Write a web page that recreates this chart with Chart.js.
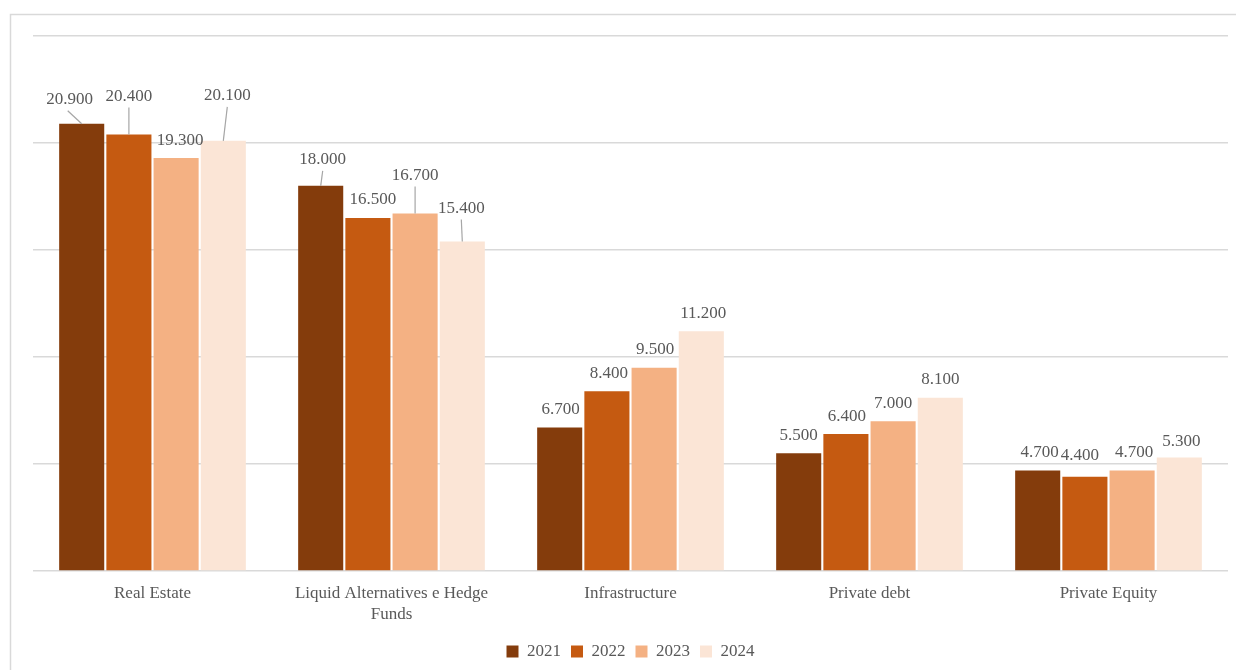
<!DOCTYPE html>
<html>
<head>
<meta charset="utf-8">
<script src="https://cdn.jsdelivr.net/npm/chart.js@4.4.0/dist/chart.umd.min.js"></script>
<style>
  html, body { margin: 0; padding: 0; background: #ffffff; }
  #wrap { width: 1236px; height: 670px; position: relative; }
</style>
</head>
<body>
<div id="wrap"><canvas id="c" width="1236" height="670"></canvas></div>
<script>
const categories = ["Real Estate", ["Liquid Alternatives e Hedge", "Funds"], "Infrastructure", "Private debt", "Private Equity"];
const years = ["2021", "2022", "2023", "2024"];
const values2021 = [20.9, 18.0, 6.7, 5.5, 4.7];
const values2022 = [20.4, 16.5, 8.4, 6.4, 4.4];
const values2023 = [19.3, 16.7, 9.5, 7.0, 4.7];
const values2024 = [20.1, 15.4, 11.2, 8.1, 5.3];
const yTicks = [0, 5, 10, 15, 20, 25];

const colors = ["#843C0C", "#C55A11", "#F4B183", "#FBE5D6"];
const series = [values2021, values2022, values2023, values2024];

// label nudges (dx, dy in px relative to default position above the bar)
const labelShift = [
  [[-12, -6], [2, -8], [1, 0], [0, 0], [2, 0]],
  [[0, -20], [5, 0], [2, 0], [1, 0], [-5, -3]],
  [[4, 1], [0, -20], [1, 0], [0, 0], [2, 0]],
  [[4, -27], [-1, -15], [2, 0], [0, 0], [2, 2]]
];

const FONT = "'Liberation Serif', 'Times New Roman', serif";
const TEXT = "#595959";

const frame = {
  id: 'frame',
  beforeDraw(chart) {
    const ctx = chart.ctx;
    ctx.save();
    ctx.fillStyle = '#ffffff';
    ctx.fillRect(0, 0, chart.width, chart.height);
    ctx.strokeStyle = '#d9d9d9';
    ctx.lineWidth = 1.5;
    ctx.strokeRect(10.5, 14.5, 1400, 800);
    ctx.restore();
  }
};

const valueLabels = {
  id: 'valueLabels',
  afterDatasetsDraw(chart) {
    const ctx = chart.ctx;
    ctx.save();
    ctx.font = "17px " + FONT;
    ctx.fillStyle = TEXT;
    ctx.textAlign = 'center';
    ctx.textBaseline = 'middle';
    chart.data.datasets.forEach((ds, i) => {
      const meta = chart.getDatasetMeta(i);
      meta.data.forEach((bar, j) => {
        const v = ds.data[j];
        const sh = labelShift[i][j];
        const lx = bar.x + sh[0];
        const ly = bar.y - 18 + sh[1];
        if (sh[1] <= -6) {
          ctx.strokeStyle = '#a6a6a6';
          ctx.lineWidth = 1.2;
          ctx.beginPath();
          ctx.moveTo(lx - (sh[0] < -5 ? 2 : 0), ly + 11);
          ctx.lineTo(bar.x, bar.y);
          ctx.stroke();
        }
        ctx.fillText(v.toFixed(3), lx, ly);
      });
    });
    ctx.restore();
  }
};

new Chart(document.getElementById('c'), {
  type: 'bar',
  data: {
    labels: categories,
    datasets: years.map((y, i) => ({
      label: y,
      data: series[i],
      backgroundColor: colors[i],
      borderWidth: 0,
      categoryPercentage: 0.79,
      barPercentage: 0.955
    }))
  },
  options: {
    responsive: false,
    animation: false,
    layout: { padding: { left: 33, right: 8, top: 36, bottom: 0 } },
    scales: {
      x: {
        grid: { display: false, drawTicks: false },
        border: { display: false },
        ticks: { color: TEXT, font: { family: FONT, size: 17, lineHeight: 1.25 }, padding: 12, maxRotation: 0, autoSkip: false },
        afterFit(scale) { scale.height = 62; }
      },
      y: {
        min: 0,
        max: 25,
        afterBuildTicks(scale) { scale.ticks = yTicks.map(v => ({ value: v })); },
        ticks: { display: false },
        grid: { color: '#d9d9d9', lineWidth: 1.5, drawTicks: false },
        border: { display: false }
      }
    },
    plugins: {
      legend: {
        position: 'bottom',
        labels: {
          color: TEXT,
          font: { family: FONT, size: 17 },
          boxWidth: 12,
          boxHeight: 12,
          padding: 10
        }
      },
      tooltip: { enabled: false }
    }
  },
  plugins: [frame, valueLabels]
});
</script>
</body>
</html>
